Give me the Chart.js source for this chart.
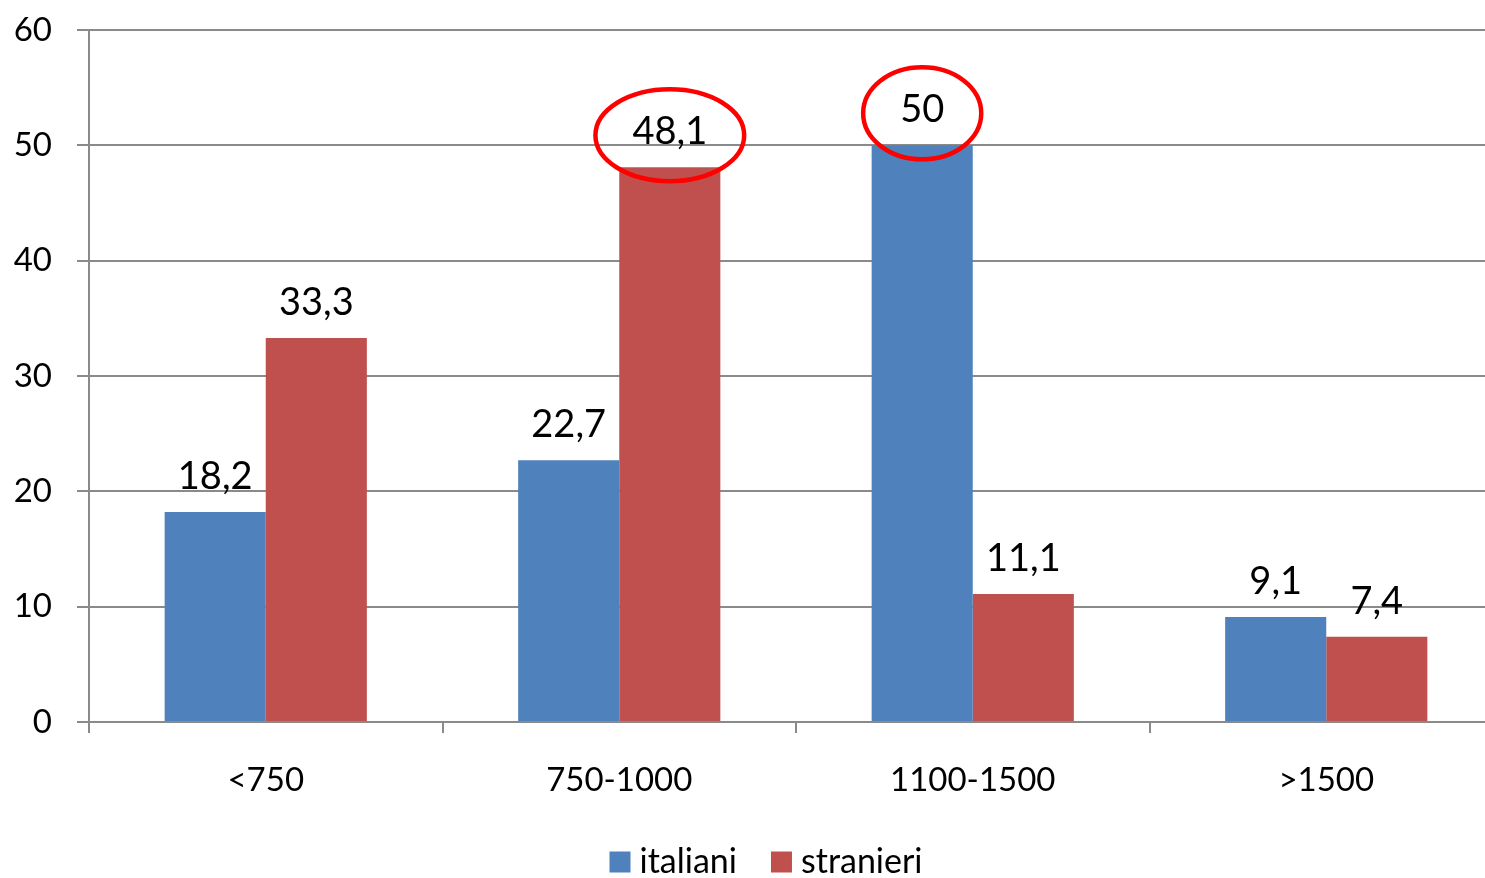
<!DOCTYPE html>
<html>
<head>
<meta charset="utf-8">
<script src="https://cdn.jsdelivr.net/npm/chart.js@4/dist/chart.umd.min.js"></script>
<style>
  html, body { margin: 0; padding: 0; background: #fff; overflow: hidden; width: 1485px; height: 878px; }
  canvas { display: block; }
</style>
</head>
<body>
<canvas id="c" width="1532" height="878" style="width:1532px;height:878px"></canvas>
<script>
// Income bands and shares (%) per group
const categories = ['<750', '750-1000', '1100-1500', '>1500'];
const italiani = [18.2, 22.7, 50, 9.1];
const stranieri = [33.3, 48.1, 11.1, 7.4];
const seriesNames = ['italiani', 'stranieri'];
const seriesColors = ['#4F81BD', '#C0504D'];
const yTicks = [0, 10, 20, 30, 40, 50, 60];
// Values ringed in red: [series, category]
const circled = [[1, 1], [0, 2]];

const FONT = 'Lato, "DejaVu Sans", sans-serif';
const AXIS_SIZE = 33;
const VALUE_SIZE = 38;
const LEGEND_SIZE = 34;
const GRID = '#8a8a8a';

const fmt = v => String(v).replace('.', ',');

const valueLabels = {
  id: 'valueLabels',
  afterDatasetsDraw(chart) {
    const ctx = chart.ctx;
    ctx.save();
    ctx.font = VALUE_SIZE + 'px ' + FONT;
    ctx.fillStyle = '#000';
    ctx.textAlign = 'center';
    ctx.textBaseline = 'alphabetic';
    chart.data.datasets.forEach((ds, di) => {
      const meta = chart.getDatasetMeta(di);
      meta.data.forEach((bar, i) => {
        ctx.fillText(fmt(ds.data[i]), bar.x, bar.y - 23);
      });
    });
    // red rings around highlighted values
    ctx.strokeStyle = '#ff0000';
    ctx.lineWidth = 4.5;
    circled.forEach(([di, i]) => {
      const bar = chart.getDatasetMeta(di).data[i];
      const w = ctx.measureText(fmt(chart.data.datasets[di].data[i])).width;
      ctx.beginPath();
      ctx.ellipse(bar.x, bar.y - 32, w / 2 + 37, 46, 0, 0, Math.PI * 2);
      ctx.stroke();
    });
    ctx.restore();
  }
};

const bottomLegend = {
  id: 'bottomLegend',
  afterDraw(chart) {
    const ctx = chart.ctx;
    ctx.save();
    ctx.font = LEGEND_SIZE + 'px ' + FONT;
    ctx.textBaseline = 'middle';
    ctx.textAlign = 'left';
    const box = 21, gap = 9, spacing = 34;
    const items = chart.data.datasets.map(ds => ({
      label: ds.label, color: ds.backgroundColor, w: ctx.measureText(ds.label).width
    }));
    const total = items.reduce((s, it) => s + box + gap + it.w, 0) + spacing * (items.length - 1);
    let x = chart.width / 2 - total / 2;
    const cy = 862;
    items.forEach(it => {
      ctx.fillStyle = it.color;
      ctx.fillRect(x, cy - box / 2, box, box);
      ctx.fillStyle = '#000';
      ctx.fillText(it.label, x + box + gap, cy);
      x += box + gap + it.w + spacing;
    });
    ctx.restore();
  }
};

new Chart(document.getElementById('c'), {
  type: 'bar',
  data: {
    labels: categories,
    datasets: [
      { label: seriesNames[0], data: italiani, backgroundColor: seriesColors[0] },
      { label: seriesNames[1], data: stranieri, backgroundColor: seriesColors[1] }
    ]
  },
  options: {
    responsive: false,
    animation: false,
    devicePixelRatio: 1,
    layout: { padding: { left: 0, top: 30, right: 29, bottom: 0 } },
    datasets: { bar: { categoryPercentage: 0.572, barPercentage: 1.0, borderWidth: 0 } },
    plugins: { legend: { display: false }, tooltip: { enabled: false } },
    scales: {
      x: {
        afterFit: s => { s.height = 156; s.paddingLeft = 0; s.paddingRight = 0; },
        grid: { drawOnChartArea: false, drawTicks: true, tickLength: 11, color: GRID, lineWidth: 2, offset: true },
        border: { display: true, color: GRID, width: 2 },
        ticks: { color: '#000', font: { family: FONT, size: AXIS_SIZE }, padding: 28 }
      },
      y: {
        min: 0, max: 60,
        afterFit: s => { s.width = 89; s.paddingTop = 0; s.paddingBottom = 0; },
        afterBuildTicks: s => { s.ticks = yTicks.map(v => ({ value: v })); },
        grid: { color: GRID, lineWidth: 2, tickLength: 12, drawTicks: true },
        border: { display: true, color: GRID, width: 2 },
        ticks: { color: '#000', font: { family: FONT, size: AXIS_SIZE }, padding: 25, callback: v => fmt(v) }
      }
    }
  },
  plugins: [valueLabels, bottomLegend]
});
</script>
</body>
</html>
